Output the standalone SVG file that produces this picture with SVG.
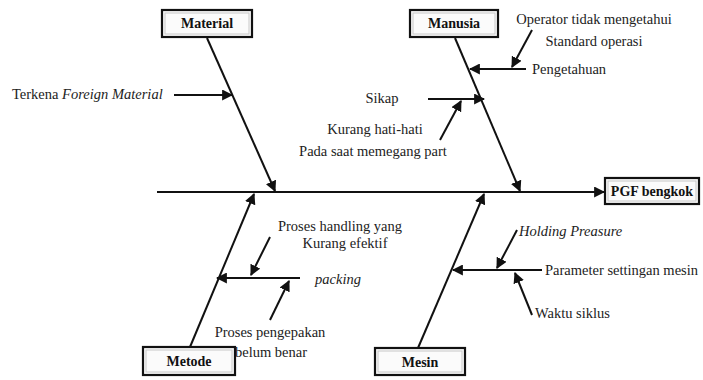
<svg xmlns="http://www.w3.org/2000/svg" width="703" height="380" viewBox="0 0 703 380">
<style>
.box{fill:#fbfbfb;stroke:#111;stroke-width:2.2}
.inner{fill:none;stroke:#c8c8c8;stroke-width:1}
text{font-family:'Liberation Serif','Times New Roman','DejaVu Serif',serif}
.lbl{font-size:14px;font-weight:bold;fill:#111;text-anchor:middle}
.t{font-size:14.5px;fill:#222}
.i{font-style:italic}
.bone{stroke:#111;stroke-width:2;fill:none;marker-end:url(#ah)}
</style>
<defs>
<marker id="ah" viewBox="0 0 10 10" refX="9" refY="5" markerWidth="5.5" markerHeight="5.5" orient="auto" markerUnits="strokeWidth">
<path d="M0,0 L10,5 L0,10 z" fill="#111"/>
</marker>
</defs>
<rect width="703" height="380" fill="#fff"/>
<g id="connectors">
<line class="bone" x1="157" y1="192" x2="604" y2="192"/>
<line class="bone" x1="207" y1="38" x2="275" y2="191"/>
<line class="bone" x1="455" y1="38" x2="520" y2="191"/>
<line class="bone" x1="190" y1="347" x2="254" y2="194"/>
<line class="bone" x1="418" y1="348" x2="484" y2="194"/>
<line class="bone" x1="174" y1="95" x2="232" y2="95"/>
<line class="bone" x1="526" y1="69" x2="470" y2="69"/>
<line class="bone" x1="532" y1="30" x2="512" y2="67"/>
<line class="bone" x1="428" y1="99" x2="484" y2="99"/>
<line class="bone" x1="440" y1="140" x2="461" y2="101"/>
<line class="bone" x1="300" y1="278" x2="217" y2="278"/>
<line class="bone" x1="270" y1="237" x2="251" y2="275"/>
<line class="bone" x1="270" y1="320" x2="289" y2="281"/>
<line class="bone" x1="542" y1="270" x2="453" y2="270"/>
<line class="bone" x1="517" y1="230" x2="497" y2="268"/>
<line class="bone" x1="532" y1="315" x2="515" y2="273"/>
</g>
<g id="material">
<rect class="box" x="162" y="10" width="90" height="27"/>
<rect class="inner" x="165" y="13" width="84" height="21"/>
<text class="lbl" x="207" y="28" font-family="Liberation Serif, serif">Material</text>
</g>
<g id="manusia">
<rect class="box" x="410" y="10" width="88" height="27"/>
<rect class="inner" x="413" y="13" width="82" height="21"/>
<text class="lbl" x="454" y="28">Manusia</text>
</g>
<g id="pgf">
<rect class="box" x="605" y="178" width="94" height="26"/>
<rect class="inner" x="608" y="181" width="88" height="20"/>
<text class="lbl" x="652" y="196">PGF bengkok</text>
</g>
<g id="metode">
<rect class="box" x="143" y="347" width="92" height="28"/>
<rect class="inner" x="146" y="350" width="86" height="22"/>
<text class="lbl" x="189" y="366">Metode</text>
</g>
<g id="mesin">
<rect class="box" x="375" y="348" width="90" height="27"/>
<rect class="inner" x="378" y="351" width="84" height="21"/>
<text class="lbl" x="420" y="367">Mesin</text>
</g>
<g id="labels">
<text class="t" x="12" y="99">Terkena <tspan class="i">Foreign Material</tspan></text>
<text class="t" x="594" y="24" text-anchor="middle">Operator tidak mengetahui</text>
<text class="t" x="594" y="46" text-anchor="middle">Standard operasi</text>
<text class="t" x="532" y="74">Pengetahuan</text>
<text class="t" x="382" y="103" text-anchor="middle">Sikap</text>
<text class="t" x="375" y="134" text-anchor="middle">Kurang hati-hati</text>
<text class="t" x="373" y="156" text-anchor="middle">Pada saat memegang part</text>
<text class="t" x="340" y="231" text-anchor="middle">Proses handling yang</text>
<text class="t" x="345" y="248" text-anchor="middle">Kurang efektif</text>
<text class="t i" x="338" y="284" text-anchor="middle">packing</text>
<text class="t" x="270" y="337" text-anchor="middle">Proses pengepakan</text>
<text class="t" x="271" y="357" text-anchor="middle">belum benar</text>
<text class="t i" x="519" y="236">Holding Preasure</text>
<text class="t" x="545" y="275">Parameter settingan mesin</text>
<text class="t" x="535" y="318">Waktu siklus</text>
</g>
</svg>
